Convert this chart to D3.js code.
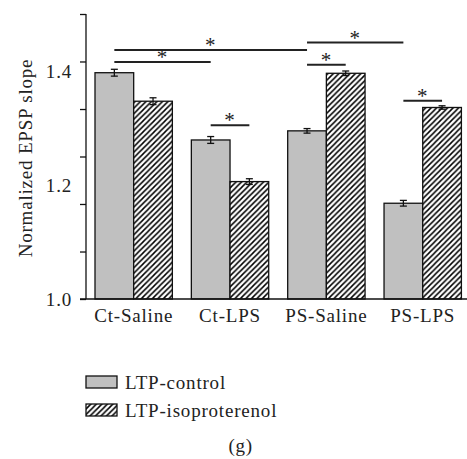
<!DOCTYPE html>
<html>
<head>
<meta charset="utf-8">
<script src="https://cdn.jsdelivr.net/npm/d3@7"></script>
<style>
  body { margin: 0; background: #fff; }
  text { font-family: "Liberation Serif", "Times New Roman", serif; fill: #222; letter-spacing: 0.8px; }
</style>
</head>
<body>
<div id="chart"></div>
<script>
const groups = ["Ct-Saline", "Ct-LPS", "PS-Saline", "PS-LPS"];
const series = ["LTP-control", "LTP-isoproterenol"];
const controlValues = [1.397, 1.279, 1.295, 1.168];
const controlErrors = [0.006, 0.006, 0.004, 0.005];
const isoValues = [1.347, 1.206, 1.396, 1.336];
const isoErrors = [0.006, 0.005, 0.004, 0.003];
const yTickMarks = [1.0, 1.0833, 1.1667, 1.25, 1.3333, 1.4167, 1.5];
const yTickLabels = [1.0, 1.2, 1.4];
// significance brackets: [group a, series a, group b, series b, level]
const comparisons = [
    ["Ct-Saline", 0, "Ct-LPS", 0, 1.416],
    ["Ct-Saline", 0, "PS-Saline", 0, 1.437],
    ["Ct-LPS", 0, "Ct-LPS", 1, 1.305],
    ["PS-Saline", 0, "PS-Saline", 1, 1.411],
    ["PS-Saline", 0, "PS-LPS", 0, 1.450],
    ["PS-LPS", 0, "PS-LPS", 1, 1.348],
];

const width = 467;
const height = 459;

const svg = d3.select("#chart")
    .append("svg")
    .attr("width", width)
    .attr("height", height);

// hatch pattern
svg.append("defs").append("pattern")
    .attr("id", "hatch")
    .attr("patternUnits", "userSpaceOnUse")
    .attr("width", 5.5)
    .attr("height", 5.5)
    .call(p => {
        p.append("rect").attr("width", 5.5).attr("height", 5.5).attr("fill", "#fff");
        p.append("path")
            .attr("d", "M0,5.5 L5.5,0 M-1,1 L1,-1 M4.5,6.5 L6.5,4.5")
            .attr("stroke", "#000")
            .attr("stroke-width", 1.5);
    });

// Scales
const x0 = d3.scaleBand()
    .domain(groups)
    .range([86, 470.4])
    .paddingInner(0.197)
    .paddingOuter(0.0934);

const x1 = d3.scaleBand()
    .domain([0, 1])
    .range([0, x0.bandwidth()]);

const y = d3.scaleLinear()
    .domain([1.0, 1.5])
    .range([299, 14]);

const data = [];
groups.forEach((g, i) => {
    data.push({ group: g, s: 0, value: controlValues[i], err: controlErrors[i] });
    data.push({ group: g, s: 1, value: isoValues[i], err: isoErrors[i] });
});

// Bars
svg.append("g").selectAll("rect")
    .data(data)
    .enter()
    .append("rect")
    .attr("x", d => x0(d.group) + x1(d.s))
    .attr("y", d => y(d.value))
    .attr("width", x1.bandwidth())
    .attr("height", d => y(1.0) - y(d.value))
    .attr("fill", d => d.s === 0 ? "#c0c0c0" : "url(#hatch)")
    .attr("stroke", "#111")
    .attr("stroke-width", 1.3);

// Error bars
const eb = svg.append("g").attr("stroke", "#111").attr("stroke-width", 1.3);
data.forEach(d => {
    const cx = x0(d.group) + x1(d.s) + x1.bandwidth() / 2;
    eb.append("line").attr("x1", cx).attr("x2", cx)
        .attr("y1", y(d.value + d.err)).attr("y2", y(d.value - d.err));
    [d.value + d.err, d.value - d.err].forEach(v => {
        eb.append("line").attr("x1", cx - 3.5).attr("x2", cx + 3.5)
            .attr("y1", y(v)).attr("y2", y(v));
    });
});

// Axes
const yAxis = svg.append("g")
    .attr("transform", "translate(86,0)")
    .call(d3.axisLeft(y).tickValues(yTickMarks).tickSize(6).tickFormat(""));
yAxis.select(".domain").attr("d", `M0,${y(1.5)}V${y(1.0)}`).attr("stroke", "#111").attr("stroke-width", 1.3);
yAxis.selectAll(".tick line").attr("stroke", "#111").attr("stroke-width", 1.3);

const yLabels = svg.append("g")
    .attr("transform", "translate(86,0)")
    .call(d3.axisLeft(y).tickValues(yTickLabels).tickSize(0).tickPadding(14).tickFormat(d3.format(".1f")));
yLabels.select(".domain").remove();
yLabels.selectAll("text").attr("font-size", 19).attr("font-family", null);

const xAxis = svg.append("g")
    .attr("transform", `translate(0,${y(1.0)})`)
    .call(d3.axisBottom(x0).tickSize(0).tickPadding(10));
xAxis.select(".domain").attr("d", `M80,0H${width}`).attr("stroke", "#111").attr("stroke-width", 1.3);
xAxis.selectAll("text").attr("font-size", 19).attr("font-family", null);

// Y title
svg.append("text")
    .attr("transform", `translate(32,158) rotate(-90)`)
    .attr("text-anchor", "middle")
    .attr("font-size", 19)
    .text("Normalized EPSP slope");

// Significance brackets
const sig = svg.append("g");
comparisons.forEach(c => {
    const xa = x0(c[0]) + x1(c[1]) + x1.bandwidth() / 2;
    const xb = x0(c[2]) + x1(c[3]) + x1.bandwidth() / 2;
    const ly = y(c[4]);
    sig.append("line")
        .attr("x1", xa).attr("x2", xb)
        .attr("y1", ly).attr("y2", ly)
        .attr("stroke", "#222").attr("stroke-width", 2);
    sig.append("text")
        .attr("x", (xa + xb) / 2)
        .attr("y", ly + 2)
        .attr("text-anchor", "middle")
        .attr("font-size", 21)
        .attr("fill", "#555")
        .text("*");
});

// Legend
const legend = svg.append("g");
series.forEach((s, i) => {
    legend.append("rect")
        .attr("x", 86).attr("y", 376 + i * 28)
        .attr("width", 31).attr("height", 12)
        .attr("fill", i === 0 ? "#c0c0c0" : "url(#hatch)")
        .attr("stroke", "#111").attr("stroke-width", 1.3);
    legend.append("text")
        .attr("x", 125).attr("y", 389 + i * 28)
        .attr("font-size", 19)
        .text(s);
});

svg.append("text")
    .attr("x", 240.7).attr("y", 452)
    .attr("text-anchor", "middle")
    .attr("font-size", 19)
    .text("(g)");
</script>
</body>
</html>
